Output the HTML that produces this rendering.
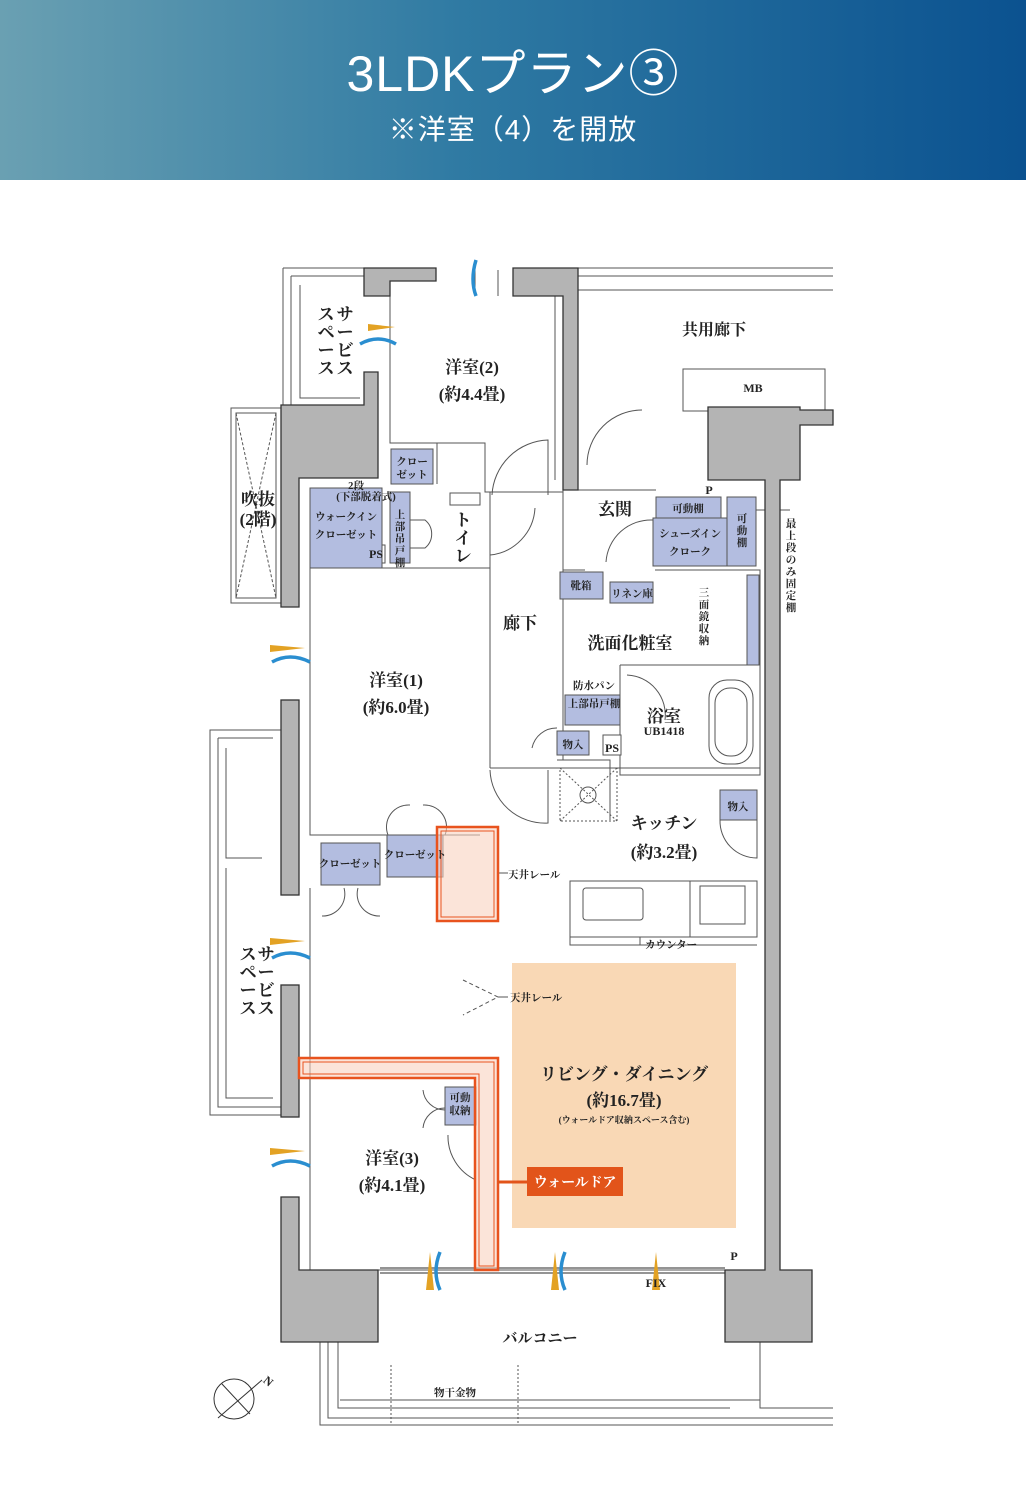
<!DOCTYPE html>
<html><head><meta charset="utf-8"><style>
html,body{margin:0;padding:0;background:#fff;}
body{width:1026px;height:1509px;overflow:hidden;position:relative;}
.hdr{position:absolute;left:0;top:0;width:1026px;height:180px;background:linear-gradient(90deg,#6aa0b2 0%,#2f7aa3 45%,#0b5290 100%);}
.t1{position:absolute;left:0;width:1026px;top:34px;text-align:center;color:#fff;font:50px "Liberation Sans","Noto Sans CJK JP",sans-serif;letter-spacing:1px;}
.t2{position:absolute;left:0;width:1026px;top:108px;text-align:center;color:#fff;font:28px "Liberation Sans","Noto Sans CJK JP",sans-serif;letter-spacing:1px;}
svg{position:absolute;left:0;top:0;}
text{font-family:"Liberation Serif","Noto Serif CJK JP",serif;fill:#222;font-weight:bold;}
</style></head><body>
<div class="hdr"></div>
<div class="t1">3LDKプラン③</div>
<div class="t2">※洋室（4）を開放</div>
<svg width="1026" height="1509" viewBox="0 0 1026 1509">
<g fill="none" stroke="#555" stroke-width="1">
 <path d="M578 268H833M578 276H833M578 290H833"/>
 <rect x="683" y="369" width="142" height="42"/>
 <path d="M283 268H364M283 268V405M291 276H364M291 276V405M300 285V398H360"/>
 <rect x="231" y="408" width="50" height="195"/><rect x="236" y="413" width="40" height="185"/>
 <path d="M236 413L276 598M276 413L236 598" stroke-dasharray="3 2"/>
 <path d="M281 730H210V1115H281M218 738H273M218 738V1107H281M226 748V858H262M226 868V1098H273"/>
 <path d="M320 1342V1425H833M328 1342V1418H833M338 1342V1408H730M760 1342V1408H833M340 1400H760"/>
 <path d="M391 1365V1425M518 1365V1425" stroke-dasharray="2 2"/>
 <path d="M390 296V443H437V484M437 443H485V492H490V768M490 768H610M490 492H563V480M310 568H490M310 568V835H480M310 888V1270H380M380 1270H725"/>
 <path d="M498 270V296M475 270V296M555 296V480"/>
 <path d="M563 490H656M563 490V570H585M655 570H760V665H748M620 665H708M563 570V760M620 665H760V775H620V665"/>
 <path d="M557 760H610V820M610 768H760"/>
 <path d="M570 881H757V937H570ZM570 937V945H757M690 881V937" />
 <rect x="583" y="888" width="60" height="32" rx="3"/>
 <rect x="700" y="886" width="45" height="38"/>
 <rect x="709" y="680" width="44" height="84" rx="18"/><rect x="715" y="688" width="32" height="68" rx="15"/>
 <rect x="560" y="768" width="57" height="53" stroke-dasharray="2 2"/><path d="M560 768L617 821M617 768L560 821" stroke-dasharray="2 2"/><circle cx="588" cy="795" r="8"/>
 <path d="M492 495A58 58 0 0 1 548 440V495"/>
 <path d="M587 465A55 55 0 0 1 642 410"/>
 <path d="M490 555A50 50 0 0 0 535 508"/>
 <path d="M606 562A45 45 0 0 1 653 520"/>
 <path d="M490 770A55 55 0 0 0 548 823V770"/>
 <path d="M388 835A22 22 0 0 1 410 805M445 835A22 22 0 0 0 423 805"/>
 <path d="M322 916A22 22 0 0 0 344 888M380 916A22 22 0 0 1 358 888"/>
 <path d="M423 1090A22 22 0 0 0 445 1110M423 1128A22 22 0 0 1 445 1108"/>
 <path d="M448 1135A48 48 0 0 0 476 1180"/>
 <path d="M720 820A37 37 0 0 0 757 858V820"/>
 <path d="M532 748A25 25 0 0 1 557 728"/>
 <path d="M627 675A40 40 0 0 1 665 720"/>
 <path d="M463 980L498 997L463 1015" stroke-dasharray="4 3"/>
 <path d="M498 997H508M498 873H508M640 937V945H645M742 510H790"/>
 <path d="M380 1273H725M380 1268H725" stroke-width="1.2"/>
 <rect x="603" y="735" width="18" height="20" fill="#fff"/>
 <rect x="367" y="545" width="18" height="18" fill="#fff"/>
 <path d="M395 520H425A18 18 0 0 1 425 548H395Z"/>
 <rect x="450" y="493" width="30" height="12"/>
</g>
<g fill="#b4b4b4" stroke="#333" stroke-width="1.3">
 <path d="M364 268H436V281H390V296H364Z"/>
 <path d="M513 268H578V490H563V296H513Z"/>
 <path d="M364 372H378V478H299V607H281V405H364Z"/>
 <rect x="281" y="700" width="18" height="195"/>
 <rect x="281" y="985" width="18" height="132"/>
 <path d="M281 1197H299V1270H378V1342H281Z"/>
 <path d="M708 407H800V410H833V425H800V480H780V1270H812V1342H725V1270H765V480H708Z"/>
</g>
<g fill="#b3bde0" stroke="#555" stroke-width="1">
 <rect x="391" y="449" width="42" height="35"/>
 <rect x="310" y="488" width="72" height="80"/>
 <rect x="390" y="492" width="20" height="71"/>
 <rect x="656" y="497" width="65" height="21"/>
 <rect x="653" y="518" width="74" height="48"/>
 <rect x="727" y="497" width="29" height="69"/>
 <rect x="560" y="572" width="43" height="27"/>
 <rect x="610" y="582" width="43" height="21"/>
 <rect x="565" y="695" width="55" height="30"/>
 <rect x="557" y="731" width="32" height="24"/>
 <rect x="720" y="790" width="37" height="30"/>
 <rect x="321" y="843" width="59" height="42"/>
 <rect x="387" y="835" width="56" height="42"/>
 <rect x="445" y="1087" width="31" height="38"/>
 <rect x="747" y="575" width="12" height="90"/>
</g>
<rect x="512" y="963" width="224" height="265" fill="#f9d8b5"/>
<g fill="#f8d2c0" fill-opacity="0.6" stroke="#e8531e" stroke-width="2.5">
 <rect x="437" y="827" width="61" height="94"/>
 <path d="M299 1058H498V1270H475V1078H299Z"/>
</g>
<g fill="none" stroke="#e8531e" stroke-width="1"><rect x="441" y="831" width="53" height="86"/><path d="M303 1062H494V1266H479V1074H303Z"/></g>
<path d="M498 1182H527" stroke="#e2541a" stroke-width="3"/>
<rect x="527" y="1167" width="96" height="29" fill="#e2541a"/>
<text x="575" y="1187" text-anchor="middle" font-size="14" style="fill:#fff">ウォールドア</text>
<g>
 <path d="M368 324L395 327L368 331Z M270 645L305 648L270 652Z M270 938L305 941L270 945Z M270 1148L305 1151L270 1155Z" fill="#e3a224"/>
 <path d="M426 1290L430 1252L434 1290Z M551 1290L555 1252L559 1290Z M652 1290L656 1252L660 1290Z" fill="#e3a224"/>
 <path d="M360 344Q378 334 396 344M272 662Q290 652 310 662M272 958Q290 948 310 958M272 1166Q290 1156 310 1166M440 1290Q432 1272 440 1252M565 1290Q557 1272 565 1252M476 296Q470 280 476 260" stroke="#2a8ed0" stroke-width="3.5" fill="none"/>
</g>
<g stroke="#333" fill="none"><circle cx="234" cy="1399" r="20"/><path d="M218 1418L262 1380M222 1384L250 1414"/></g>
<text x="264" y="1385" font-size="12" transform="rotate(40 268 1381)">N</text>
<g font-size="17">
 <text x="472" y="373" text-anchor="middle">洋室(2)</text>
 <text x="472" y="400" text-anchor="middle">(約4.4畳)</text>
 <text x="714" y="335" text-anchor="middle" font-size="16">共用廊下</text>
 <text x="615" y="515" text-anchor="middle">玄関</text>
 <text x="520" y="629" text-anchor="middle">廊下</text>
 <text x="630" y="649" text-anchor="middle">洗面化粧室</text>
 <text x="664" y="722" text-anchor="middle">浴室</text>
 <text x="396" y="686" text-anchor="middle">洋室(1)</text>
 <text x="396" y="713" text-anchor="middle">(約6.0畳)</text>
 <text x="664" y="829" text-anchor="middle">キッチン</text>
 <text x="664" y="858" text-anchor="middle">(約3.2畳)</text>
 <text x="624" y="1080" text-anchor="middle">リビング・ダイニング</text>
 <text x="624" y="1106" text-anchor="middle">(約16.7畳)</text>
 <text x="392" y="1164" text-anchor="middle">洋室(3)</text>
 <text x="392" y="1191" text-anchor="middle">(約4.1畳)</text>
 <text x="258" y="505" text-anchor="middle">吹抜</text>
 <text x="258" y="525" text-anchor="middle">(2階)</text>
 <text x="540" y="1343" text-anchor="middle" font-size="15">バルコニー</text>
</g>
<g font-size="17">
 <text x="345" y="320" text-anchor="middle">サ</text><text x="345" y="338" text-anchor="middle">ー</text><text x="345" y="356" text-anchor="middle">ビ</text><text x="345" y="374" text-anchor="middle">ス</text>
 <text x="326" y="320" text-anchor="middle">ス</text><text x="326" y="338" text-anchor="middle">ペ</text><text x="326" y="356" text-anchor="middle">ー</text><text x="326" y="374" text-anchor="middle">ス</text>
 <text x="266" y="960" text-anchor="middle">サ</text><text x="266" y="978" text-anchor="middle">ー</text><text x="266" y="996" text-anchor="middle">ビ</text><text x="266" y="1014" text-anchor="middle">ス</text>
 <text x="248" y="960" text-anchor="middle">ス</text><text x="248" y="978" text-anchor="middle">ペ</text><text x="248" y="996" text-anchor="middle">ー</text><text x="248" y="1014" text-anchor="middle">ス</text>
 <text x="463" y="526" text-anchor="middle">ト</text><text x="463" y="544" text-anchor="middle">イ</text><text x="463" y="562" text-anchor="middle">レ</text>
</g>
<g font-size="10.5">
 <text x="412" y="465" text-anchor="middle">クロー</text><text x="412" y="478" text-anchor="middle">ゼット</text>
 <text x="356" y="489" text-anchor="middle">2段</text>
 <text x="366" y="500" text-anchor="middle">(下部脱着式)</text>
 <text x="346" y="520" text-anchor="middle">ウォークイン</text>
 <text x="346" y="538" text-anchor="middle">クローゼット</text>
 <text x="400" y="518" text-anchor="middle">上</text><text x="400" y="530" text-anchor="middle">部</text><text x="400" y="542" text-anchor="middle">吊</text><text x="400" y="554" text-anchor="middle">戸</text><text x="400" y="566" text-anchor="middle">棚</text>
 <text x="376" y="558" text-anchor="middle" font-size="12">PS</text>
 <text x="688" y="512" text-anchor="middle">可動棚</text>
 <text x="690" y="537" text-anchor="middle">シューズイン</text>
 <text x="690" y="555" text-anchor="middle">クローク</text>
 <text x="742" y="522" text-anchor="middle">可</text><text x="742" y="534" text-anchor="middle">動</text><text x="742" y="546" text-anchor="middle">棚</text>
 <text x="709" y="494" text-anchor="middle" font-size="12">P</text>
 <text x="753" y="392" text-anchor="middle" font-size="12">MB</text>
 <text x="581" y="589" text-anchor="middle">靴箱</text>
 <text x="632" y="597" text-anchor="middle">リネン庫</text>
 <text x="704" y="596" text-anchor="middle">三</text><text x="704" y="608" text-anchor="middle">面</text><text x="704" y="620" text-anchor="middle">鏡</text><text x="704" y="632" text-anchor="middle">収</text><text x="704" y="644" text-anchor="middle">納</text>
 <text x="791" y="527" text-anchor="middle">最</text><text x="791" y="539" text-anchor="middle">上</text><text x="791" y="551" text-anchor="middle">段</text><text x="791" y="563" text-anchor="middle">の</text><text x="791" y="575" text-anchor="middle">み</text><text x="791" y="587" text-anchor="middle">固</text><text x="791" y="599" text-anchor="middle">定</text><text x="791" y="611" text-anchor="middle">棚</text>
 <text x="594" y="689" text-anchor="middle">防水パン</text>
 <text x="594" y="707" text-anchor="middle">上部吊戸棚</text>
 <text x="664" y="735" text-anchor="middle" font-size="12">UB1418</text>
 <text x="573" y="748" text-anchor="middle">物入</text>
 <text x="612" y="752" text-anchor="middle" font-size="12">PS</text>
 <text x="738" y="810" text-anchor="middle">物入</text>
 <text x="350" y="867" text-anchor="middle">クローゼット</text>
 <text x="415" y="858" text-anchor="middle">クローゼット</text>
 <text x="508" y="878">天井レール</text>
 <text x="510" y="1001">天井レール</text>
 <text x="645" y="948">カウンター</text>
 <text x="460" y="1101" text-anchor="middle">可動</text><text x="460" y="1114" text-anchor="middle">収納</text>
 <text x="624" y="1123" text-anchor="middle" font-size="9">(ウォールドア収納スペース含む)</text>
 <text x="734" y="1260" text-anchor="middle" font-size="12">P</text>
 <text x="656" y="1287" text-anchor="middle" font-size="12">FIX</text>
 <text x="455" y="1396" text-anchor="middle">物干金物</text>
</g>
</svg>
</body></html>
